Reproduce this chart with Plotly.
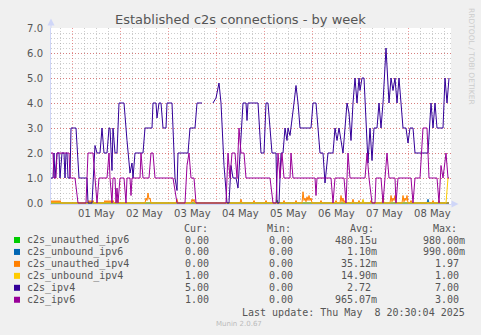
import plotly.graph_objects as go
import pandas as pd

# ---------------- data (30-minute RRD rows counted from START) ----------------
START = pd.Timestamp("2025-04-30 13:20")
STEP = pd.Timedelta(minutes=30)
N_ROWS = 400

ipv4_idx = [0, 2, 3, 4, 6, 8, 9, 11, 13, 14, 15, 16, 17, 19, 20, 25, 28, 36, 37, 41, 44, 46, 49, 51, 53, 56, 58, 59,
            61, 62, 64, 66, 68, 73, 76, 79, 81, 82, 84, 92, 94, 101, 102, 105, 106, 108, 110, 112, 115, 116, 121,
            124, 126, 127, 137, 139, 144, 146, 151, 156, 162, 165, 168, 170, 173, 176, 178, 180, 182, 185, 187,
            189, 191, 192, 195, 196, 197, 207, 210, 213, 215, 217, 219, 221, 225, 226, 228, 230, 232, 234, 236,
            237, 239, 241, 243, 245, 247, 249, 260, 262, 265, 269, 272, 274, 277, 282, 284, 286, 288, 290, 292,
            294, 296, 298, 300, 302, 304, 306, 308, 309, 311, 313, 315, 317, 319, 321, 323, 326, 328, 330, 332,
            335, 338, 340, 342, 344, 346, 348, 350, 352, 355, 357, 359, 362, 364, 377, 380, 382, 384, 386, 392,
            394, 396, 398]
ipv4_val = [1, 1, 2, 1, 2, 2, 1, 2, 2, 1, 2, 2, 1, 1, 3, 3, 1, 1, 0, 0, 2.3, 2, 2, 3, 2, 2, 3, 3,
            1.3, 3, 2, 2, 4, 4, 2.5, 1.2, 1.6, 1, 2, 2, 3, 3, 4, 4, 3.4, 4, 4, 3, 3, 4, 4,
            1, 0.5, 2, 2, 3, 3, 4, 4, None, 4, 4.2, 4.8, 4, 1.5, 0, 0, 1.5, 1, 1, 0.6,
            2, 3, 4, 4, 3.3, 4, 4, 2, 2, 4, 4, 3, 2, 2, 0, 0, 2, 2, 3, 2.5,
            3, 2.7, 3.5, 4, 4.7, 4, 3, 3, 4, 4, 2, 2, 0.8, 2, 2, 3, 2.5, 3, 2.5, 2,
            3, 4, 3.6, 2.5, 4, 5, 4, 5, 4.5, 5, 5, 3, 1.6, 3, 1.7, 3, 3, 4, 3, 4,
            6.2, 4, 5, 4.5, 5, 4, 5, 4, 3, 3, 2.4, 3, 3, 2, 2, 4, 3, 4, 3, 3,
            5, 4, 5]

ipv6_idx = [0, 2, 3, 5, 6, 18, 19, 24, 27, 35, 37, 42, 44, 46, 48, 56, 58, 59, 61, 62, 64, 65, 66, 67, 69, 73,
            75, 76, 79, 80, 81, 89, 90, 92, 98, 100, 102, 104, 122, 126, 134, 136, 138, 140, 143, 145, 175,
            177, 179, 181, 184, 186, 188, 190, 193, 195, 219, 222, 225, 227, 229, 231, 233, 239, 240, 242, 264,
            265, 266, 280, 282, 284, 293, 295, 297, 299, 314, 316, 318, 321, 324, 325, 330, 332, 334, 336, 338,
            344, 345, 347, 360, 362, 364, 369, 372, 376, 378, 386, 388, 390, 392, 395, 397, 398]
ipv6_val = [2, 2, 1, 1, 2, 2, 1, 1, 0, 0, 2, 2, 1, 0, 1, 1, 2, 1, 0, 1, 1, 0, 0.6, 0, 1, 1,
            0, 1, 1, 0.3, 1, 1, 2, 1, 1, 2, 2, 1, 1, 0, 0, 1.5, 2, 1, 1, 0, 0,
            2, 1, 2, 2, 1, 3, 2, 2, 1, 1, 0, 0, 2, 1, 2, 1, 1, 2, 1, 1,
            0.3, 1, 1, 0, 1, 1, 0, 2, 1, 1, 2, 1, 0, 0, 1, 1, 0, 1, 2, 1,
            1, 0, 1, 1, 0, 1, 1, 3, 3, 1, 1, 0, 1.5, 1, 2, 1, 1]

unauthed_ipv4_idx = [0, 1, 2, 3, 4, 5, 6, 7, 8, 9, 10, 37, 38, 39, 40, 41, 42, 43, 53, 54, 55, 56, 57, 58, 59, 60,
                     61, 62, 63, 65, 66, 67, 94, 95, 96, 97, 98, 99, 100, 125, 126, 127, 140, 141, 142, 143, 144,
                     189, 190, 191, 202, 203, 204, 214, 215, 216, 232, 233, 234, 244, 245, 246, 251, 252, 253, 254,
                     255, 256, 257, 258, 259, 260, 261, 269, 270, 271, 284, 285, 286, 289, 290, 291, 292, 293, 294,
                     295, 301, 302, 303, 307, 308, 309, 319, 320, 321, 331, 332, 333, 339, 340, 341, 342, 343, 344,
                     345, 351, 352, 353, 354, 355, 356, 357, 359, 360, 361, 381, 382, 383, 387, 388, 389, 398]
unauthed_ipv4_val = [0, 0.1, 0, 0.1, 0, 0.1, 0, 0.1, 0, 0.1, 0, 0, 0.1, 0, 0.1, 0, 0.1, 0, 0, 0.1, 0, 0.1, 0, 0.1, 0, 0.1,
                     0, 0.1, 0, 0, 0.15, 0, 0, 0.2, 0.1, 0.4, 0.15, 0.2, 0, 0, 0.15, 0, 0, 0.15, 0.05, 0.15, 0,
                     0, 0.15, 0, 0, 0.1, 0, 0, 0.1, 0, 0, 0.1, 0, 0, 0.1, 0, 0, 0.45, 0.1, 0.2,
                     0.05, 0.25, 0.1, 0.3, 0.1, 0.2, 0, 0, 0.1, 0, 0, 0.1, 0, 0, 0.3, 0.05, 0.2, 0, 0.1,
                     0, 0, 0.15, 0, 0, 0.1, 0, 0, 0.1, 0, 0, 0.2, 0, 0, 0.3, 0.05, 0.2, 0.1, 0.3,
                     0, 0, 0.3, 0.05, 0.2, 0.1, 0.3, 0, 0, 0.1, 0, 0, 0.1, 0, 0, 0.1, 0, 0]

unbound_ipv4_idx = [0, 311, 312, 313, 395, 397, 398]
unbound_ipv4_val = [0, 0, 0.15, 0, 0, 1, 1]

unbound_ipv6_idx = [0, 311, 312, 313, 376, 377, 378, 398]
unbound_ipv6_val = [0, 0, 0.1, 0, 0, 0.15, 0, 0]

unauthed_ipv6_idx = [0, 225, 226, 227, 398]
unauthed_ipv6_val = [0, 0, 0.12, 0, 0]

series_names = ["c2s_unauthed_ipv6", "c2s_unbound_ipv6", "c2s_unauthed_ipv4",
                "c2s_unbound_ipv4", "c2s_ipv4", "c2s_ipv6"]
series_colors = ["#00CC00", "#0066B3", "#FF8000", "#FFCC00", "#330099", "#990099"]
series_idx = [unauthed_ipv6_idx, unbound_ipv6_idx, unauthed_ipv4_idx, unbound_ipv4_idx, ipv4_idx, ipv6_idx]
series_val = [unauthed_ipv6_val, unbound_ipv6_val, unauthed_ipv4_val, unbound_ipv4_val, ipv4_val, ipv6_val]

col_cur = ["0.00", "0.00", "0.00", "1.00", "5.00", "1.00"]
col_min = ["0.00", "0.00", "0.00", "0.00", "0.00", "0.00"]
col_avg = ["480.15u", "1.10m", "35.12m", "14.90m", "2.72", "965.07m"]
col_max = ["980.00m", "990.00m", "1.97", "1.00", "7.00", "3.00"]

TITLE = "Established c2s connections - by week"
LAST_UPDATE = "Last update: Thu May\u00a0\u00a08 20:30:04 2025"
FOOTER = "Munin 2.0.67"
SIDE = "RRDTOOL / TOBI OETIKER"

# ---------------- layout geometry ----------------
W, H = 481, 335
L, R, T, B = 51, 30, 28, 131
PW, PH = W - L - R, H - T - B
FONT = "#555555"
AXIS = "#CFD6F8"


def px(x):
    return (x - L) / PW


def py(y):
    return (H - B - y) / PH


fig = go.Figure()
for name, color, idx, val in zip(series_names, series_colors, series_idx, series_val):
    fig.add_trace(go.Scatter(
        x=[START + STEP * i for i in idx], y=val, mode="lines", name=name,
        line=dict(color=color, width=1), connectgaps=False, showlegend=False,
        hoverinfo="skip"))

fig.update_layout(
    width=W, height=H, margin=dict(l=L, r=R, t=T, b=B, pad=0),
    paper_bgcolor="#F0F0F0", plot_bgcolor="#FFFFFF",
    font=dict(family="DejaVu Sans", size=10, color=FONT),
    showlegend=False,
)
fig.update_xaxes(
    type="date", range=[START, START + STEP * N_ROWS],
    dtick=86400000, tick0="2025-05-01", ticklabelmode="period", tickformat="%d %b",
    showgrid=True, gridcolor="rgba(222,48,48,0.5)", griddash="1px,2px", gridwidth=1,
    minor=dict(dtick=6 * 3600000, tick0="2025-05-01", showgrid=True,
               gridcolor="rgba(143,143,143,0.45)", griddash="1px,2px", gridwidth=1),
    showline=True, linecolor=AXIS, linewidth=1, ticks="", zeroline=False,
    tickfont=dict(size=10, color=FONT),
)
fig.update_yaxes(
    range=[-0.04, 7], tickvals=[0, 1, 2, 3, 4, 5, 6, 7], tickformat=".1f",
    showgrid=True, gridcolor="rgba(222,48,48,0.5)", griddash="1px,2px", gridwidth=1,
    minor=dict(dtick=0.2, tick0=0, showgrid=True,
               gridcolor="rgba(143,143,143,0.45)", griddash="1px,2px", gridwidth=1),
    showline=True, linecolor=AXIS, linewidth=1, ticks="", zeroline=False,
    ticklabelstandoff=5, tickfont=dict(size=10, color=FONT),
)

shapes = []
# axis arrows
shapes.append(dict(type="line", xref="paper", yref="paper", x0=0, x1=0, y0=1, y1=py(22),
                   line=dict(color=AXIS, width=1)))
shapes.append(dict(type="path", xref="paper", yref="paper",
                   path=f"M {px(47.5)},{py(25.5)} L {px(51)},{py(18.5)} L {px(54.5)},{py(25.5)} Z",
                   fillcolor=AXIS, line=dict(color=AXIS, width=0)))
shapes.append(dict(type="line", xref="paper", yref="paper", x0=1, x1=px(454), y0=0, y1=0,
                   line=dict(color=AXIS, width=1)))
shapes.append(dict(type="path", xref="paper", yref="paper",
                   path=f"M {px(451.5)},{py(200.5)} L {px(458.5)},{py(204)} L {px(451.5)},{py(207.5)} Z",
                   fillcolor=AXIS, line=dict(color=AXIS, width=0)))

annotations = []
annotations.append(dict(text=TITLE, xref="paper", yref="paper", x=px(240), y=py(19.5),
                        xanchor="center", yanchor="middle", showarrow=False,
                        font=dict(family="DejaVu Sans", size=13, color=FONT)))
annotations.append(dict(text=SIDE, xref="paper", yref="paper", x=px(471.5), y=py(56.5),
                        xanchor="center", yanchor="middle", showarrow=False, textangle=90,
                        font=dict(family="DejaVu Sans", size=7.5, color="#CCCCCC")))

MONO = dict(family="DejaVu Sans Mono", size=10, color=FONT)
head_y = 228.3
for label, xl in zip(["Cur:", "Min:", "Avg:", "Max:"], [181.7, 265, 347.7, 431]):
    annotations.append(dict(text=label, xref="paper", yref="paper", x=px(xl), y=py(head_y),
                            xanchor="left", yanchor="middle", showarrow=False, font=MONO))

CH = 6.02
col_right = [216.7, 301.0, 379.0, 466.7]
for i, name in enumerate(series_names):
    yrow = 240 + 11.95 * i
    shapes.append(dict(type="rect", xref="paper", yref="paper",
                       x0=px(14), x1=px(20), y0=py(yrow - 3), y1=py(yrow + 3),
                       fillcolor=series_colors[i], line=dict(width=0)))
    annotations.append(dict(text=name, xref="paper", yref="paper", x=px(25), y=py(yrow),
                            xanchor="left", yanchor="middle", showarrow=False, font=MONO))
    for col, xr in zip([col_cur, col_min, col_avg, col_max], col_right):
        s = col[i]
        edge = xr if s[-1].isalpha() else xr - CH
        annotations.append(dict(text=s, xref="paper", yref="paper", x=px(edge), y=py(yrow),
                                xanchor="right", yanchor="middle", showarrow=False, font=MONO))

annotations.append(dict(text=LAST_UPDATE, xref="paper", yref="paper", x=px(466.7), y=py(312.3),
                        xanchor="right", yanchor="middle", showarrow=False, font=MONO))
annotations.append(dict(text=FOOTER, xref="paper", yref="paper", x=px(239), y=py(324),
                        xanchor="center", yanchor="middle", showarrow=False,
                        font=dict(family="DejaVu Sans", size=7, color="#BBBBBB")))

fig.update_layout(shapes=shapes, annotations=annotations)
fig.write_html("out.html", config={"displayModeBar": False})
